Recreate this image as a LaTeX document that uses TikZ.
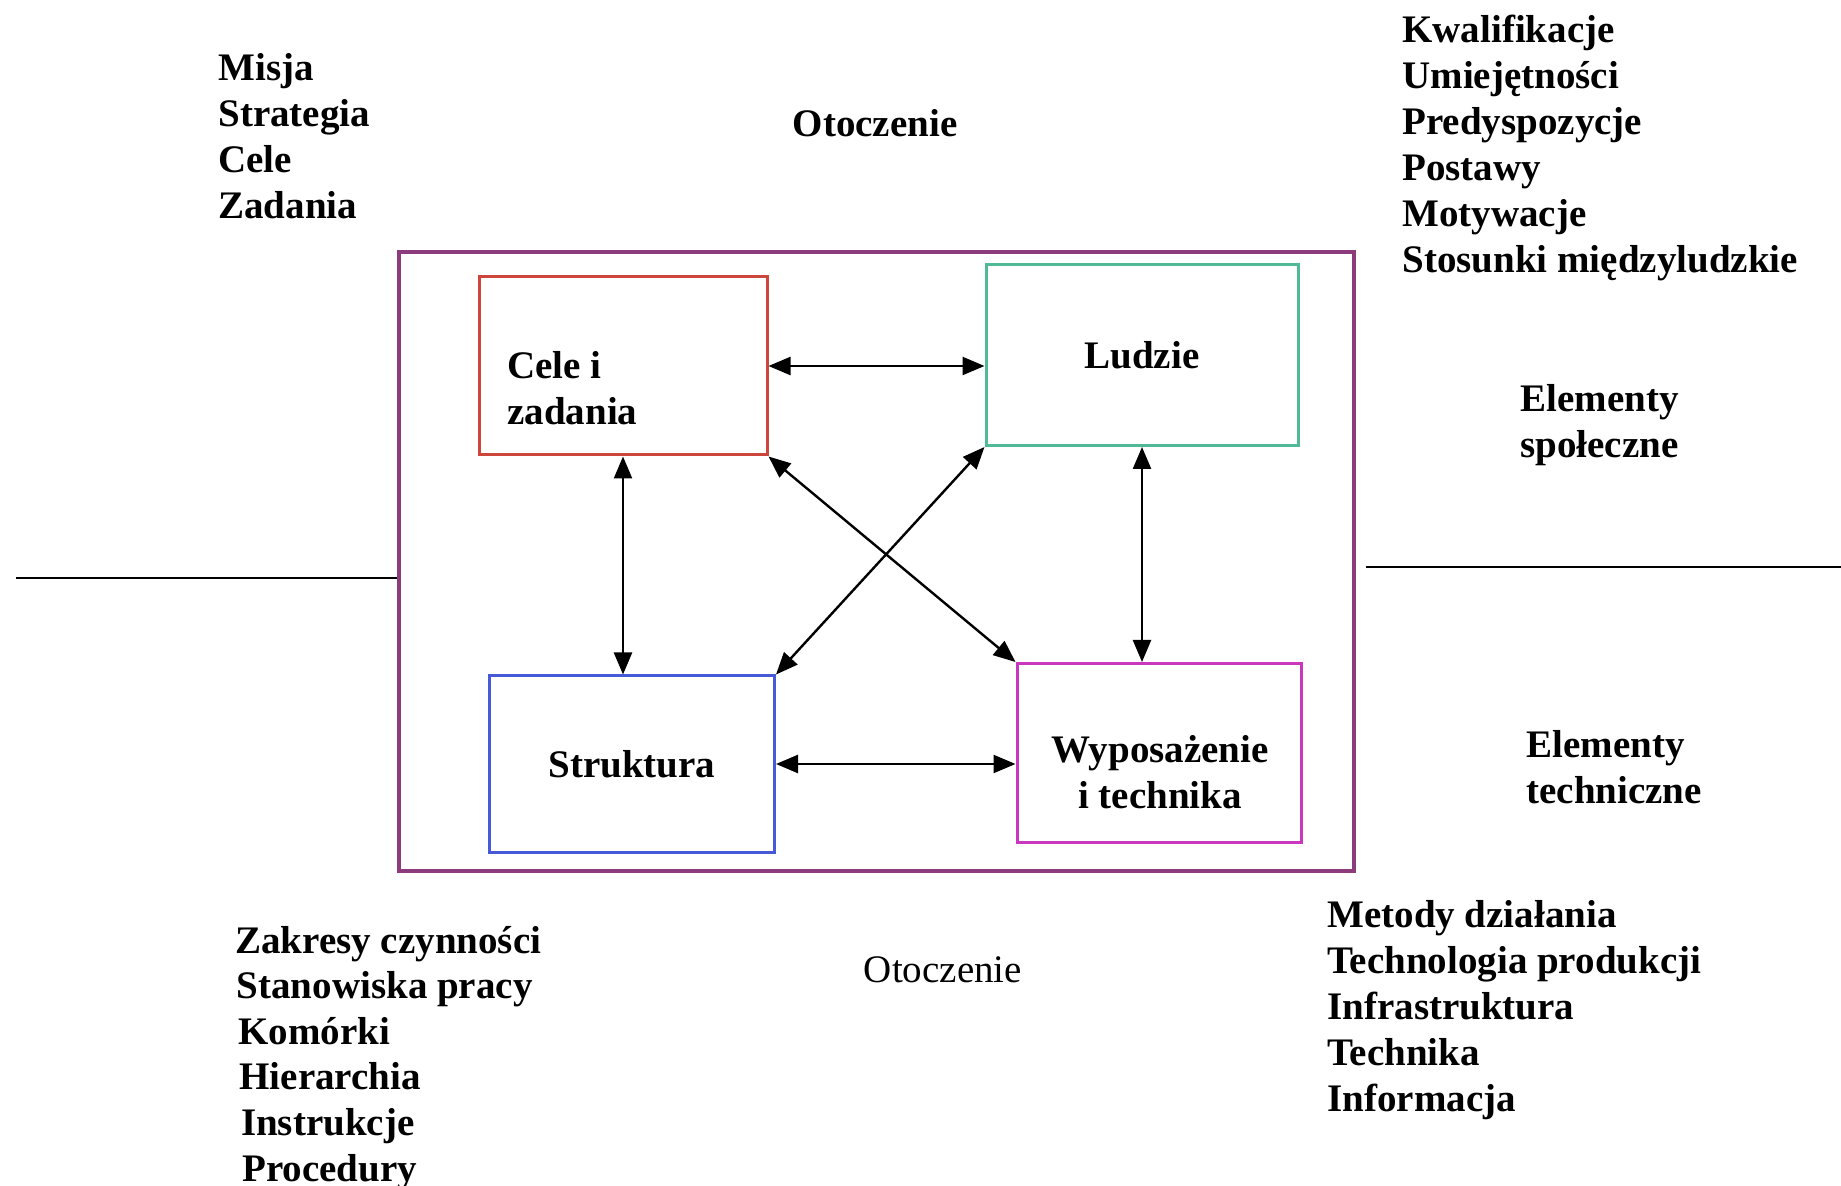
\documentclass[tikz,border=0pt]{standalone}
\usepackage{fontspec}
\setmainfont{Liberation Serif}
\usetikzlibrary{arrows.meta,calc}
\definecolor{envc}{RGB}{140,60,125}
\definecolor{celec}{RGB}{205,70,60}
\definecolor{ludzc}{RGB}{80,185,150}
\definecolor{strukc}{RGB}{70,90,215}
\definecolor{wypc}{RGB}{200,55,190}
\begin{document}
\begin{tikzpicture}[x=0.5pt,y=-0.5pt,
  every node/.style={font=\fontsize{19.5pt}{23pt}\selectfont\bfseries, inner sep=0pt},
  box/.style={draw=#1, line width=1.5pt, rectangle},
  link/.style={line width=1.2pt, {Triangle[length=11pt,width=9pt]}-{Triangle[length=11pt,width=9pt]}},
  item/.style={anchor=base west},
  sep/.style={line width=1pt}]
\useasboundingbox (0,0) rectangle (1841,1186);

% environment frame and the four subsystems
\node[box=envc, line width=1.8pt, minimum width=477.5pt, minimum height=309.5pt] (env) at (876.5,561.5) {};
\node[box=celec, minimum width=144pt, minimum height=89pt] (cele) at (623,366) {};
\node[align=left, anchor=west] (celeTxt) at (507,388) {Cele i\\zadania};
\node[box=ludzc, minimum width=156pt, minimum height=90.5pt] (ludzie) at (1142,355) {Ludzie};
\node[box=strukc, minimum width=142.5pt, minimum height=88pt] (strukt) at (632,764) {Struktura};
\node[box=wypc, minimum width=142pt, minimum height=89.5pt] (wyp) at (1159,753) {};
\node[align=center] (wypTxt) at (1160,772) {Wyposażenie\\i technika};

% mutual relations
\draw[link] (cele.east) -- (cele.east -| ludzie.west);
\draw[link] (strukt.east) -- (strukt.east -| wyp.west);
\draw[link] (cele.south) -- (cele.south |- strukt.north);
\draw[link] (ludzie.south) -- (ludzie.south |- wyp.north);
\draw[link] (cele.south east) -- (wyp.north west);
\draw[link] (ludzie.south west) -- (strukt.north east);

% dividing line between social and technical elements
\coordinate (lfar) at (16,578);
\coordinate (rfar) at (1841,567);
\draw[sep] (lfar) -- (lfar -| env.west);
\draw[sep] ($(rfar -| env.east)+(10,0)$) -- (rfar);

% surroundings labels
\node (otTop) at (875,123) {Otoczenie};
\node[font=\fontsize{19.5pt}{23pt}\selectfont\mdseries] (otBot) at (943,970) {Otoczenie};
\node[align=left, anchor=west] (spol) at (1520,425) {Elementy\\społeczne};
\node[align=left, anchor=west] (tech) at (1526,767) {Elementy\\techniczne};

% descriptive lists
\foreach \t [count=\i] in {Misja,Strategia,Cele,Zadania}
  \node[item] (cel\i) at (218,{81+46*(\i-1)}) {\t};
\foreach \t [count=\i] in {Kwalifikacje,Umiejętności,Predyspozycje,Postawy,Motywacje,Stosunki międzyludzkie}
  \node[item] (lud\i) at (1402,{43+46*(\i-1)}) {\t};
\foreach \t [count=\i] in {Zakresy czynności,Stanowiska pracy,Komórki,Hierarchia,Instrukcje,Procedury}
  \node[item] (str\i) at ({235+1.4*(\i-1)},{953+45.6*(\i-1)}) {\t};
\foreach \t [count=\i] in {Metody działania,Technologia produkcji,Infrastruktura,Technika,Informacja}
  \node[item] (wyp\i) at (1327,{927+46*(\i-1)}) {\t};
\end{tikzpicture}
\end{document}
